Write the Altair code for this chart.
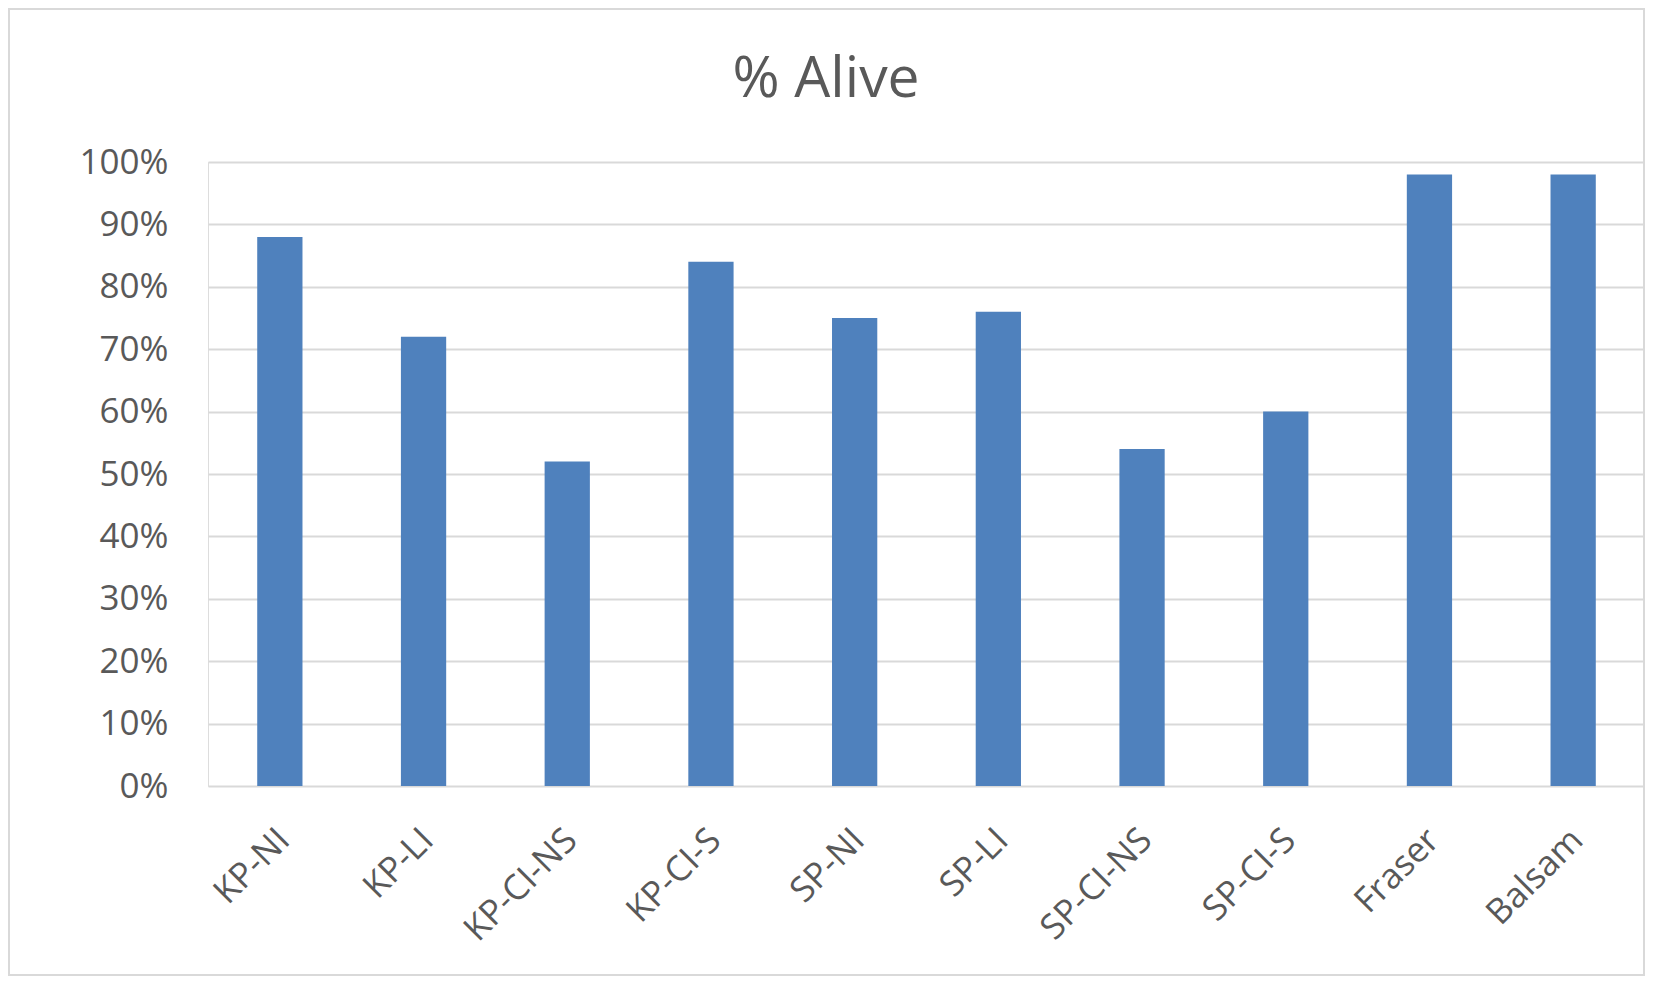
import altair as alt
import pandas as pd

categories = ["KP-NI", "KP-LI", "KP-CI-NS", "KP-CI-S", "SP-NI", "SP-LI",
              "SP-CI-NS", "SP-CI-S", "Fraser", "Balsam"]
alive = [0.88, 0.72, 0.52, 0.84, 0.75, 0.76, 0.54, 0.60, 0.98, 0.98]
y_ticks = [0, 0.1, 0.2, 0.3, 0.4, 0.5, 0.6, 0.7, 0.8, 0.9, 1.0]
title_text = "% Alive"

df = pd.DataFrame({"cat": categories, "val": alive})

FONT = "Open Sans"
TXT = "#595959"
GRID = "#D9D9D9"
W, H = 1437, 624

bars = alt.Chart(df).mark_bar(color="#4F81BD").encode(
    x=alt.X("cat:N", sort=categories,
            scale=alt.Scale(paddingInner=0.685, paddingOuter=0.3425),
            axis=alt.Axis(title=None, labelAngle=315, labelFontSize=35,
                          labelFont=FONT, labelColor=TXT, labelOffset=-8,
                          labelPadding=36, ticks=False, tickSize=0,
                          domain=False, grid=False, labelOverlap=False,
                          labelLimit=400)),
    y=alt.Y("val:Q", scale=alt.Scale(domain=[0, 1], nice=False),
            axis=alt.Axis(title=None, values=y_ticks, format=".0%",
                          labelFontSize=35, labelFont=FONT, labelColor=TXT,
                          labelPadding=40, ticks=False, tickSize=0,
                          domain=False, grid=True, gridColor=GRID,
                          gridWidth=2)),
)

one = pd.DataFrame({"t": [title_text]})

frame = alt.Chart(one).mark_rect(
    filled=False, stroke=GRID, strokeWidth=2
).encode(
    x=alt.value(-199), x2=alt.value(1436),
    y=alt.value(-153), y2=alt.value(813),
)

title = alt.Chart(one).mark_text(
    font=FONT, fontSize=57, color=TXT, align="center", baseline="alphabetic"
).encode(
    text="t:N", x=alt.value(618), y=alt.value(-65),
)

chart = alt.layer(bars, frame, title).properties(
    width=W, height=H,
    autosize=alt.AutoSizeParams(type="none"),
    padding={"left": 200, "top": 154, "right": 0, "bottom": 190},
).configure_view(stroke=None).configure(background="white")

chart.save("out.html", embed_options={"renderer": "svg", "actions": False})
